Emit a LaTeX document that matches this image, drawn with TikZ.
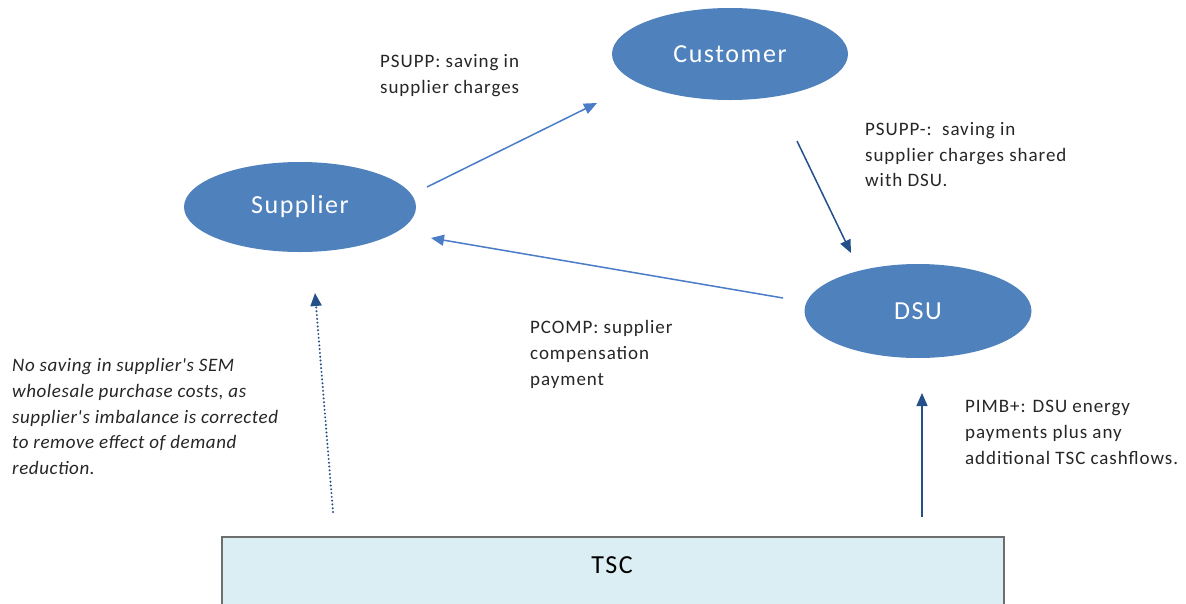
\documentclass[tikz,border=0pt]{standalone}
\usepackage{fontspec}
\setmainfont{Carlito}
\usetikzlibrary{arrows.meta,shapes.geometric}
\definecolor{nodeblue}{HTML}{4F81BD}
\definecolor{lightarrow}{HTML}{4A7CC8}
\definecolor{darkarrow}{HTML}{24508A}
\definecolor{tscfill}{HTML}{DBEEF4}
\definecolor{tscdraw}{HTML}{6E6E6E}
\newfontfamily\labelfont[LetterSpace=6]{Carlito}
\newfontfamily\notefont[LetterSpace=5]{Carlito}
\newfontfamily\italicnotefont[LetterSpace=3]{Carlito Italic}
\tikzset{
  party/.style={ellipse, fill=nodeblue, text=white, inner sep=0pt,
    font=\labelfont\fontsize{26}{30}\selectfont},
  note/.style={anchor=north west, align=left, inner sep=0pt, text=black!85,
    font=\notefont\fontsize{19}{25.8}\selectfont},
  lightflow/.style={draw=lightarrow, line width=1.5pt,
    -{Triangle[length=13pt,width=11pt]}},
  darkflow/.style={draw=darkarrow, line width=1.5pt,
    -{Triangle[length=13pt,width=11pt]}},
  dotflow/.style={draw=darkarrow, line width=2.2pt, line cap=round,
    dash pattern=on 0pt off 3.8pt,
    -{Triangle[length=13pt,width=11pt]}},
}
\begin{document}
\begin{tikzpicture}[x=1pt,y=-1pt]
\useasboundingbox (0,0) rectangle (1186,603);
\fill[white] (0,0) rectangle (1186,603);

% parties
\node[party, minimum width=236pt, minimum height=92pt] (customer) at (730,54) {Customer};
\node[party, minimum width=232pt, minimum height=90pt] (supplier) at (300,207) {Supplier};
\node[party, minimum width=227pt, minimum height=94pt] (dsu) at (918,311) {DSU};

% settlement box, running off the bottom edge
\node[draw=tscdraw, fill=tscfill, line width=1.5pt, anchor=north west,
  minimum width=782pt, minimum height=90pt, inner sep=0pt] (tsc) at (221,536) {};
\node[anchor=center, font=\labelfont\fontsize{26}{30}\selectfont] (tsclabel) at (612,565) {TSC};

% arrow end points
\coordinate (s1) at (427,187);
\coordinate (c1) at (597,103);
\coordinate (d1) at (783,298);
\coordinate (s2) at (431,238);
\coordinate (c2) at (797,141);
\coordinate (d2) at (851,253);
\coordinate (t1) at (922,517);
\coordinate (d3) at (922,393);
\coordinate (t2) at (333,512);
\coordinate (s3) at (315,293);

\draw[lightflow] (s1) -- (c1);
\draw[lightflow] (d1) -- (s2);
\draw[darkflow] (c2) -- (d2);
\draw[darkflow] (t1) -- (d3);
\draw[dotflow] (t2) -- (s3);

% cash flow notes
\node[note] (n1) at (380,54) {PSUPP: saving in\\supplier charges};
\node[note] (n2) at (865,122) {PSUPP-:\ \ saving in\\supplier charges shared\\with DSU.};
\node[note] (n3) at (530,320) {PCOMP: supplier\\compensation\\payment};
\node[note] (n4) at (965,400) {PIMB+: DSU energy\\payments plus any\\additional TSC cashflows.};
\node[note, font=\italicnotefont\fontsize{19}{25.8}\selectfont] (n5) at (12,358)
  {No saving in supplier's SEM\\wholesale purchase costs, as\\supplier's imbalance is corrected\\to remove effect of demand\\reduction.};
\end{tikzpicture}
\end{document}
